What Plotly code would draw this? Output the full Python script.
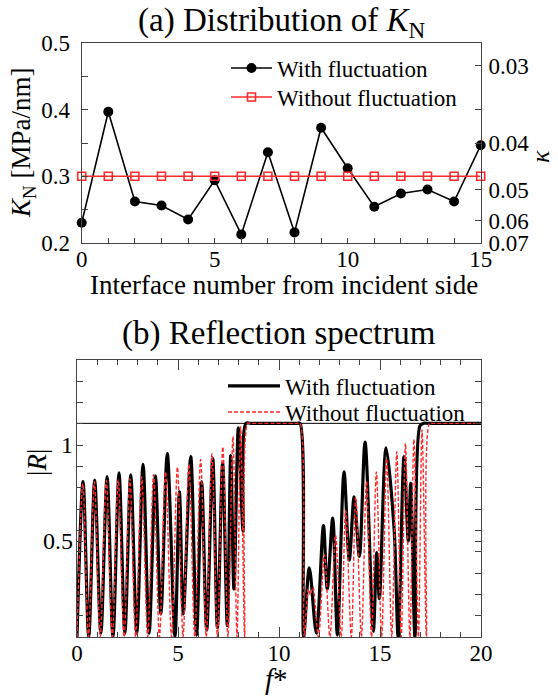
import plotly.graph_objects as go

# ---------------- data: panel (a) ----------------
interface_no = list(range(16))
kn_with = [0.230, 0.397, 0.262, 0.256, 0.235, 0.294, 0.2125, 0.336, 0.2155,
           0.373, 0.312, 0.254, 0.274, 0.280, 0.262, 0.3465]
kn_without = [0.300] * 16
kappa_ticks = [0.03, 0.035, 0.04, 0.05, 0.06, 0.07]
kappa_labels = ["0.03", "", "0.04", "0.05", "0.06", "0.07"]
KAPPA_TIMES_KN = 0.014   # kappa = 0.014 / K_N

# ---------------- data: panel (b) ----------------
f_with = [0.00, 0.30, 0.58, 0.875, 1.18, 1.49, 1.78, 2.08, 2.37, 2.66, 2.96, 3.27, 3.57,
          3.88, 4.15, 4.47, 4.85, 5.07, 5.26, 5.63, 5.92, 6.17, 6.42, 6.72, 6.95,
          7.21, 7.44, 7.61, 7.77, 7.99, 8.22, 8.36, 8.6, 10.9, 11.04, 11.22, 11.5,
          11.85, 12.2, 12.39, 12.66, 12.89, 13.22, 13.48, 13.72, 13.98, 14.26,
          14.67, 14.84, 14.97, 15.3, 15.7, 15.9, 16.19, 16.4, 16.52, 16.73, 16.98,
          17.15, 17.4, 20.0]
r_with = [0.00, 0.81, 0.00, 0.818, 0.02, 0.835, 0.00, 0.855, 0.02, 0.845, 0.02, 0.90, 0.02,
          0.84, 0.12, 0.955, 0.00, 0.757, 0.12, 0.94, 0.01, 0.81, 0.036, 0.93, 0.05,
          0.905, 0.06, 0.945, 0.25, 1.09, 0.55, 1.113, 1.113, 1.113, 1.113, 0.00, 0.36,
          0.02, 0.58, 0.25, 0.62, 0.01, 0.86, 0.40, 0.73, 0.42, 1.015,
          0.03, 0.44, 0.20, 0.985, 0.56, 0.00, 0.94, 0.50, 0.80, 0.00, 1.10,
          1.113, 1.113, 1.113]

f_without = [0.00, 0.29, 0.57, 0.86, 1.15, 1.45, 1.75, 2.04, 2.33, 2.62, 2.90, 3.20, 3.50,
             3.79, 4.08, 4.38, 4.68, 4.97, 5.25, 5.54, 5.83, 6.12, 6.40, 6.68, 6.95,
             7.22, 7.47, 7.72, 7.92, 8.10, 8.30, 8.45, 8.6, 10.9, 11.04, 11.25, 11.45,
             11.55, 11.68, 11.95, 12.25, 12.52, 12.80, 13.08, 13.30, 13.58, 13.80,
             14.08, 14.33, 14.58, 14.82, 15.08, 15.33, 15.58, 15.83, 16.05, 16.26,
             16.48, 16.68, 16.90, 17.08, 17.30, 17.45, 17.6, 20.0]
r_without = [0.00, 0.80, 0.00, 0.81, 0.00, 0.815, 0.00, 0.82, 0.00, 0.825, 0.00, 0.835, 0.00,
             0.845, 0.00, 0.86, 0.00, 0.885, 0.00, 0.90, 0.00, 0.925, 0.00, 0.955, 0.00,
             0.99, 0.00, 1.045, 0.00, 1.095, 0.00, 1.113, 1.113, 1.113, 1.113, 0.00, 0.25,
             0.22, 0.26, 0.00, 0.43, 0.00, 0.53, 0.00, 0.66, 0.00, 0.73,
             0.00, 0.81, 0.00, 0.86, 0.00, 0.93, 0.00, 0.965, 0.00, 1.01,
             0.00, 1.03, 0.00, 1.08, 0.00, 1.113, 1.113, 1.113]
R_SAT = 1.113
f_limits = [0, 20]

FONT = "Liberation Serif, Times New Roman, Times, serif"
W, H = 558, 696
RED = "#ff2a2a"
AXC = "#444"

fig = go.Figure()

# panel (a)
fig.add_trace(go.Scatter(
    x=interface_no, y=kn_with, mode="lines+markers", name="With fluctuation",
    line=dict(color="black", width=1.6),
    marker=dict(symbol="circle", size=10, color="black"),
    cliponaxis=False, legend="legend", xaxis="x", yaxis="y"))
fig.add_trace(go.Scatter(
    x=interface_no, y=kn_without, mode="lines+markers", name="Without fluctuation",
    line=dict(color=RED, width=1.6),
    marker=dict(symbol="square-open", size=8, color=RED, line=dict(width=1.6)),
    cliponaxis=False, legend="legend2", xaxis="x", yaxis="y"))
# the kappa twin axis carries the same K_N values (invisible), so it is drawn
fig.add_trace(go.Scatter(
    x=interface_no, y=kn_without, mode="lines", opacity=0, showlegend=False,
    hoverinfo="skip", xaxis="x", yaxis="y3"))

# panel (b)
fig.add_trace(go.Scatter(
    x=f_limits, y=[R_SAT, R_SAT], mode="lines", showlegend=False,
    line=dict(color="black", width=1), xaxis="x2", yaxis="y2", hoverinfo="skip"))
fig.add_trace(go.Scatter(
    x=f_with, y=r_with, mode="lines", name="With fluctuation",
    line=dict(color="black", width=3.2, shape="spline", smoothing=0.9),
    legend="legend3", xaxis="x2", yaxis="y2"))
fig.add_trace(go.Scatter(
    x=f_without, y=r_without, mode="lines", name="Without fluctuation",
    line=dict(color=RED, width=1.4, dash="4px,2px", shape="spline", smoothing=0.9),
    legend="legend4", xaxis="x2", yaxis="y2"))

tickfont = dict(family=FONT, size=23, color="black")
axis_common = dict(showline=True, linecolor=AXC, linewidth=1.2, showgrid=False,
                   zeroline=False, ticks="inside", tickcolor=AXC, tickfont=tickfont,
                   automargin=False)

# plot areas in pixels (left, right, top, bottom)
ax1 = (81.7, 480.7, 43.3, 242.7)
ax2 = (77.0, 481.0, 360.0, 637.0)


def xdom(a):
    return [a[0] / W, a[1] / W]


def ydom(a):
    return [1 - a[3] / H, 1 - a[2] / H]


def leg(x_px, y_px, width):
    return dict(x=x_px / W, y=1 - y_px / H, xanchor="left", yanchor="middle",
                bgcolor="rgba(0,0,0,0)", borderwidth=0,
                font=dict(family=FONT, size=23, color="black"),
                itemwidth=width, tracegroupgap=0)


fig.update_layout(
    width=W, height=H, margin=dict(l=0, r=0, t=0, b=0, pad=0, autoexpand=False),
    paper_bgcolor="white", plot_bgcolor="white",
    font=dict(family=FONT, color="black", size=23),
    xaxis=dict(axis_common, domain=xdom(ax1), range=[0, 15], tickvals=[0, 5, 10, 15],
               ticklen=5, mirror=True, minor=dict(dtick=1, ticks="inside", ticklen=5,
                                                  tickcolor=AXC),
               anchor="y", ticklabelstandoff=-4),
    yaxis=dict(axis_common, domain=ydom(ax1), range=[0.2, 0.5], dtick=0.1, tickformat=".1f",
               ticklen=6, mirror=True, minor=dict(dtick=0.05, ticks="inside", ticklen=6,
                                                  tickcolor=AXC),
               anchor="x", ticklabelstandoff=6),
    yaxis3=dict(axis_common, overlaying="y", side="right", range=[0.2, 0.5],
                tickmode="array",
                tickvals=[KAPPA_TIMES_KN / k for k in kappa_ticks], ticktext=kappa_labels,
                ticklen=6, anchor="x", showticklabels=True, ticklabelstandoff=2),
    xaxis2=dict(axis_common, domain=xdom(ax2), range=f_limits, tickvals=[0, 5, 10, 15, 20],
                ticklen=10, mirror="ticks", minor=dict(dtick=1, ticks="inside", ticklen=5,
                                                       tickcolor=AXC),
                anchor="y2", ticklabelstandoff=-5),
    yaxis2=dict(axis_common, domain=ydom(ax2), range=[0, 1.443], tickvals=[0.5, 1],
                ticktext=["0.5", "1"], ticklen=6, mirror="ticks",
                minor=dict(dtick=0.111, tick0=0, ticks="inside", ticklen=6, tickcolor=AXC),
                anchor="x2", tickfont=dict(family=FONT, size=24, color="black"),
                ticklabelstandoff=-2),
    legend=leg(226, 68, 41),
    legend2=leg(226, 97, 41),
    legend3=leg(223, 386, 52),
    legend4=leg(223, 412, 52),
    showlegend=True,
)

ann = [
    dict(text="(a) Distribution of <i>K</i><sub>N</sub>", x=281 / W, y=1 - 22 / H,
         font=dict(size=33)),
    dict(text="Interface number from incident side", x=284 / W, y=1 - 285 / H,
         font=dict(size=27)),
    dict(text="<i>K</i><sub>N</sub> [MPa/nm]", x=23 / W, y=1 - 143 / H, textangle=-90,
         font=dict(size=27)),
    dict(text="<i>κ</i>", x=541 / W, y=1 - 157 / H, textangle=-90, font=dict(size=26)),
    dict(text="(b) Reflection spectrum", x=279 / W, y=1 - 333 / H, font=dict(size=33)),
    dict(text="<i>f</i>*", x=276 / W, y=1 - 679 / H, font=dict(size=29)),
    dict(text="|<i>R</i>|", x=37 / W, y=1 - 463 / H, textangle=-90, font=dict(size=27)),
]
for a in ann:
    a.update(xref="paper", yref="paper", showarrow=False, xanchor="center", yanchor="middle")
    a["font"] = dict(family=FONT, color="black", **a["font"])
fig.update_layout(annotations=ann)

fig.write_html("out.html")
